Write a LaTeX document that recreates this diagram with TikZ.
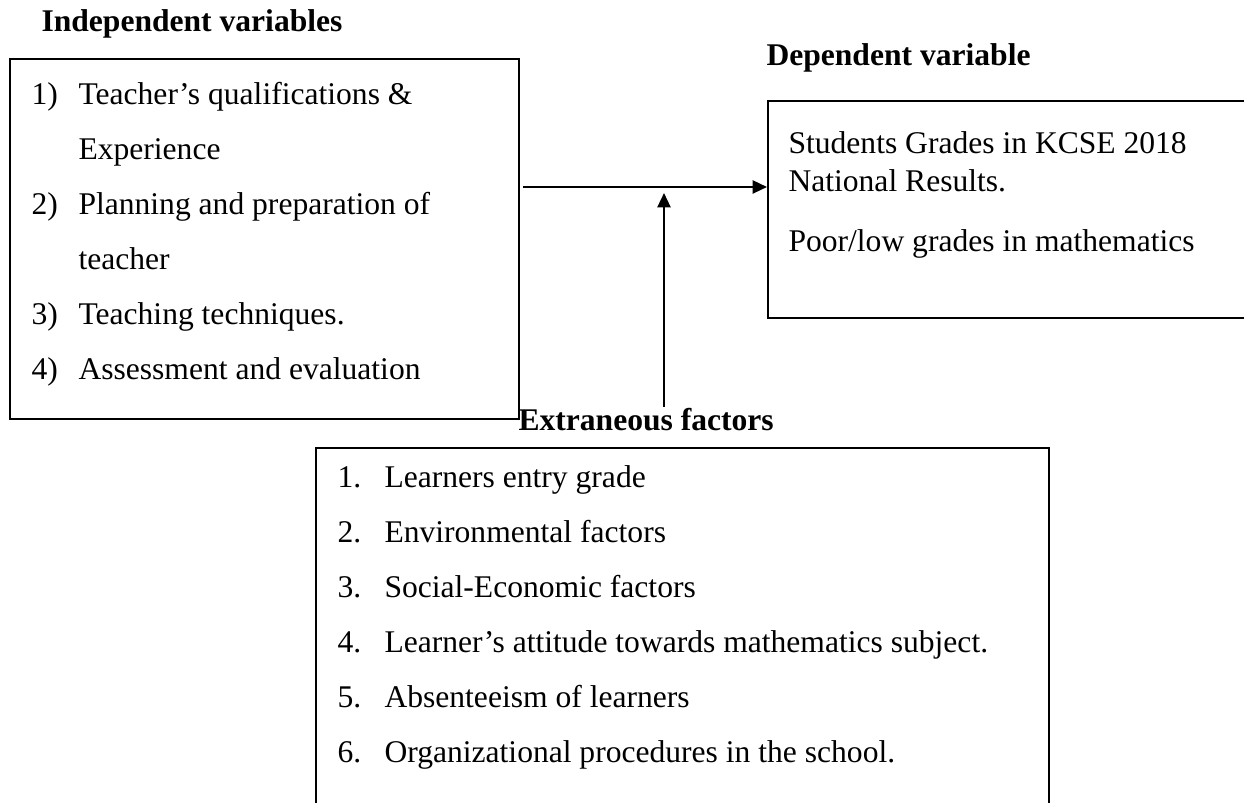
\documentclass[tikz,border=0pt]{standalone}
\usepackage{fontspec}
\setmainfont{Liberation Serif}
\usetikzlibrary{arrows.meta}
\begin{document}
\begin{tikzpicture}[x=0.38pt,y=-0.38pt,
 txt/.style={anchor=base west,inner sep=0pt,font=\fontsize{12pt}{14pt}\selectfont},
 ttl/.style={anchor=base west,inner sep=0pt,font=\fontsize{12pt}{14pt}\selectfont\bfseries},
 box/.style={draw,line width=0.75pt,anchor=north west,inner sep=0pt},
 conn/.style={line width=0.85pt,-{Triangle[length=5.5pt,width=5pt]}}]
\useasboundingbox (0,0) rectangle (1244,803);
\clip (0,0) rectangle (1244,803);
% titles
\node[ttl] (tind) at (41,32) {Independent variables};
\node[ttl] (tdep) at (766,66) {Dependent variable};
\node[ttl] (text) at (518,431) {Extraneous factors};
% boxes
\node[box,minimum width=193.4pt,minimum height=136.8pt] (lbox) at (9,58) {};
\node[box,minimum width=190pt,minimum height=82.5pt] (rbox) at (767,100) {};
\node[box,minimum width=278.5pt,minimum height=145pt] (bbox) at (315,447) {};
% left items
\node[txt] (l1n) at (31,105) {1)};
\node[txt] (l1) at (78,105) {Teacher’s qualifications \&};
\node[txt] (l1b) at (78,160) {Experience};
\node[txt] (l2n) at (31,215) {2)};
\node[txt] (l2) at (78,215) {Planning and preparation of};
\node[txt] (l2b) at (78,270) {teacher};
\node[txt] (l3n) at (31,325) {3)};
\node[txt] (l3) at (78,325) {Teaching techniques.};
\node[txt] (l4n) at (31,380) {4)};
\node[txt] (l4) at (78,380) {Assessment and evaluation};
% right items
\node[txt] (r1) at (788,154) {Students Grades in KCSE 2018};
\node[txt] (r2) at (788,192) {National Results.};
\node[txt] (r3) at (788,252) {Poor/low grades in mathematics};
% bottom items
\node[txt] (b1n) at (337,488) {1.};
\node[txt] (b1) at (384,488) {Learners entry grade};
\node[txt] (b2n) at (337,543) {2.};
\node[txt] (b2) at (384,543) {Environmental factors};
\node[txt] (b3n) at (337,598) {3.};
\node[txt] (b3) at (384,598) {Social-Economic factors};
\node[txt] (b4n) at (337,653) {4.};
\node[txt] (b4) at (384,653) {Learner’s attitude towards mathematics subject.};
\node[txt] (b5n) at (337,708) {5.};
\node[txt] (b5) at (384,708) {Absenteeism of learners};
\node[txt] (b6n) at (337,763) {6.};
\node[txt] (b6) at (384,763) {Organizational procedures in the school.};
% connectors
\coordinate (hs) at (523,187);
\coordinate (vs) at (664,407);
\coordinate (vt) at (664,193);
\draw[conn] (hs) -- (rbox.west |- hs);
\draw[conn] (vs) -- (vt);
\end{tikzpicture}
\end{document}
